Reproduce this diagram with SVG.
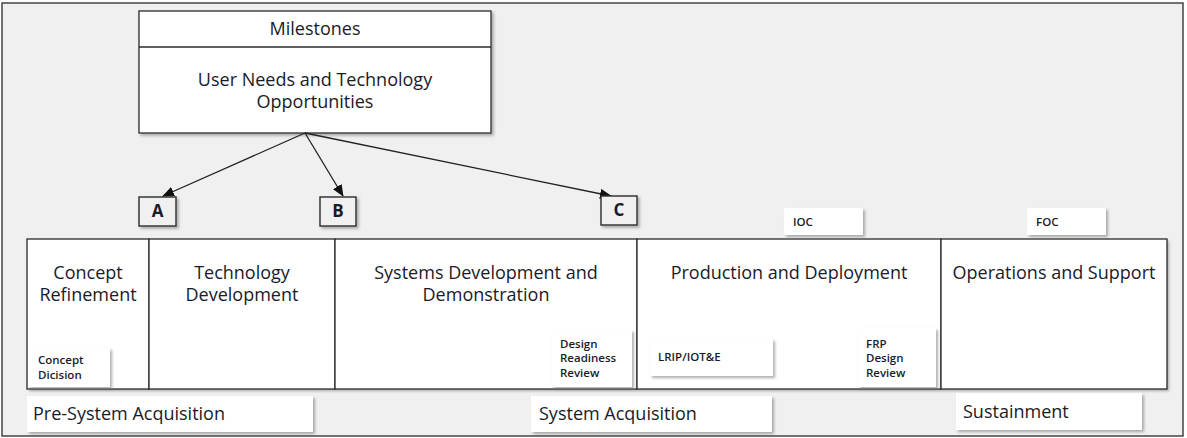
<svg xmlns="http://www.w3.org/2000/svg" width="1187" height="438" viewBox="0 0 1187 438">
  <style>
    .frame { fill: #f0f0f0; stroke: #444; stroke-width: 1.5; }
    .box { fill: #ffffff; stroke: #2a2a2a; stroke-width: 1.3; }
    .tag { fill: #ffffff; stroke: none; }
    .ms { fill: #f0f0f0; stroke: #2a2a2a; stroke-width: 1.4; }
    .t { font-family: "Open Sans", "Liberation Sans", sans-serif; fill: #1a1a28; }
    .big { font-size: 18px; font-weight: 500; }
    .mid { font-size: 17px; font-weight: 700; }
    .small { font-size: 11.5px; font-weight: 600; }
    .conn { stroke: #222; stroke-width: 1.3; fill: none; }
  </style>
  <defs>
    <filter id="shadow" x="-10%" y="-10%" width="130%" height="140%">
      <feDropShadow dx="2" dy="2" stdDeviation="1.4" flood-color="#777" flood-opacity="0.6"/>
    </filter>
    <marker id="arrow" markerWidth="12" markerHeight="10" refX="11" refY="5" orient="auto" markerUnits="userSpaceOnUse">
      <path d="M0,0 L12,5 L0,10 Z" fill="#111"/>
    </marker>
  </defs>

  <!-- page frame -->
  <rect class="frame" x="2" y="3" width="1181" height="433"/>

  <!-- top box -->
  <g id="milestones">
    <rect class="box" x="139" y="11" width="352" height="122" filter="url(#shadow)"/>
    <line x1="139" y1="47" x2="491" y2="47" stroke="#2a2a2a" stroke-width="1.3"/>
    <text class="t big" x="315" y="35" text-anchor="middle">Milestones</text>
    <text class="t big" x="315" y="86" text-anchor="middle">User Needs and Technology</text>
    <text class="t big" x="315" y="108" text-anchor="middle">Opportunities</text>
  </g>

  <!-- connectors -->
  <g id="connectors">
    <line class="conn" x1="305" y1="133" x2="163" y2="196" marker-end="url(#arrow)"/>
    <line class="conn" x1="305" y1="133" x2="343" y2="196" marker-end="url(#arrow)"/>
    <line class="conn" x1="305" y1="133" x2="611" y2="196" marker-end="url(#arrow)"/>
  </g>

  <!-- milestone markers -->
  <g id="ms-a">
    <rect class="ms" x="139" y="197" width="37" height="29" filter="url(#shadow)"/>
    <text class="t mid" x="157.5" y="217" text-anchor="middle">A</text>
  </g>
  <g id="ms-b">
    <rect class="ms" x="320" y="197" width="36" height="29" filter="url(#shadow)"/>
    <text class="t mid" x="338" y="217" text-anchor="middle">B</text>
  </g>
  <g id="ms-c">
    <rect class="ms" x="601" y="196" width="36" height="29" filter="url(#shadow)"/>
    <text class="t mid" x="619" y="216" text-anchor="middle">C</text>
  </g>

  <!-- phase band -->
  <rect x="27" y="239" width="1140" height="150" fill="#fff" filter="url(#shadow)"/>
  <g id="phase-concept">
    <rect class="box" x="27" y="239" width="122" height="150"/>
    <text class="t big" x="88" y="279" text-anchor="middle">Concept</text>
    <text class="t big" x="88" y="301" text-anchor="middle">Refinement</text>
  </g>
  <g id="phase-tech">
    <rect class="box" x="149" y="239" width="186" height="150"/>
    <text class="t big" x="242" y="279" text-anchor="middle">Technology</text>
    <text class="t big" x="242" y="301" text-anchor="middle">Development</text>
  </g>
  <g id="phase-sdd">
    <rect class="box" x="335" y="239" width="302" height="150"/>
    <text class="t big" x="486" y="279" text-anchor="middle">Systems Development and</text>
    <text class="t big" x="486" y="301" text-anchor="middle">Demonstration</text>
  </g>
  <g id="phase-pd">
    <rect class="box" x="637" y="239" width="304" height="150"/>
    <text class="t big" x="789" y="279" text-anchor="middle">Production and Deployment</text>
  </g>
  <g id="phase-os">
    <rect class="box" x="941" y="239" width="226" height="150"/>
    <text class="t big" x="1054" y="279" text-anchor="middle">Operations and Support</text>
  </g>

  <!-- decision labels -->
  <g id="concept-decision">
    <rect class="tag" x="28" y="348" width="82" height="39" filter="url(#shadow)"/>
    <text class="t small" x="38" y="364">Concept</text>
    <text class="t small" x="38" y="379">Dicision</text>
  </g>
  <g id="design-readiness">
    <rect class="tag" x="552" y="330" width="80" height="57" filter="url(#shadow)"/>
    <text class="t small" x="560" y="348">Design</text>
    <text class="t small" x="560" y="362">Readiness</text>
    <text class="t small" x="560" y="377">Review</text>
  </g>
  <g id="lrip">
    <rect class="tag" x="650" y="339" width="123" height="37" filter="url(#shadow)"/>
    <text class="t small" x="658" y="361">LRIP/IOT&amp;E</text>
  </g>
  <g id="frp">
    <rect class="tag" x="858" y="328" width="78" height="59" filter="url(#shadow)"/>
    <text class="t small" x="866" y="348">FRP</text>
    <text class="t small" x="866" y="362">Design</text>
    <text class="t small" x="866" y="377">Review</text>
  </g>
  <g id="ioc">
    <rect class="tag" x="784" y="208" width="79" height="27" filter="url(#shadow)"/>
    <text class="t small" x="793" y="226">IOC</text>
  </g>
  <g id="foc">
    <rect class="tag" x="1027" y="208" width="79" height="27" filter="url(#shadow)"/>
    <text class="t small" x="1036" y="226">FOC</text>
  </g>

  <!-- activity labels -->
  <g id="pre-system">
    <rect class="tag" x="27" y="396" width="286" height="36" filter="url(#shadow)"/>
    <text class="t big" x="33" y="420">Pre-System Acquisition</text>
  </g>
  <g id="system-acq">
    <rect class="tag" x="531" y="396" width="241" height="36" filter="url(#shadow)"/>
    <text class="t big" x="539" y="420">System Acquisition</text>
  </g>
  <g id="sustainment">
    <rect class="tag" x="956" y="393" width="186" height="37" filter="url(#shadow)"/>
    <text class="t big" x="963" y="418">Sustainment</text>
  </g>
</svg>
